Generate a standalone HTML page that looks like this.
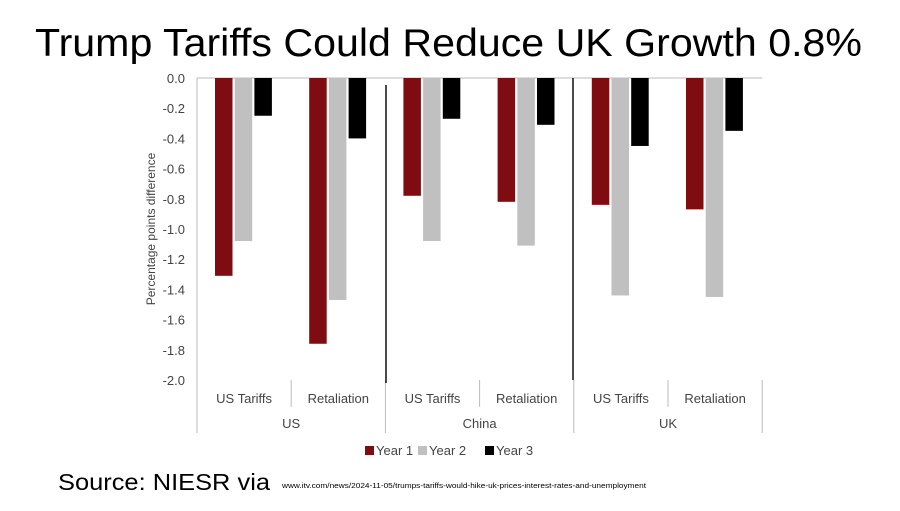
<!DOCTYPE html>
<html><head><meta charset="utf-8"><style>
body{margin:0;background:#fff;width:900px;height:506px;overflow:hidden;font-family:"Liberation Sans",sans-serif}
</style></head><body>
<svg width="900" height="506" xmlns="http://www.w3.org/2000/svg" id="chart">
<text x="35" y="56" font-size="39" fill="#000" textLength="827" lengthAdjust="spacingAndGlyphs">Trump Tariffs Could Reduce UK Growth 0.8%</text>
<text x="58" y="490" font-size="23" fill="#000" textLength="212" lengthAdjust="spacingAndGlyphs">Source: NIESR via</text>
<text x="282" y="488" font-size="7.5" fill="#000" textLength="364" lengthAdjust="spacingAndGlyphs">www.itv.com/news/2024-11-05/trumps-tariffs-would-hike-uk-prices-interest-rates-and-unemployment</text>
<g id="plot"></g>
</svg>
<script>
const categories=["US Tariffs","Retaliation","US Tariffs","Retaliation","US Tariffs","Retaliation"];
const groups=["US","China","UK"];
const year1=[-1.31,-1.76,-0.78,-0.82,-0.84,-0.87];
const year2=[-1.08,-1.47,-1.08,-1.11,-1.44,-1.45];
const year3=[-0.25,-0.40,-0.27,-0.31,-0.45,-0.35];
const yTicks=["0.0","-0.2","-0.4","-0.6","-0.8","-1.0","-1.2","-1.4","-1.6","-1.8","-2.0"];
const seriesNames=["Year 1","Year 2","Year 3"];
const colors=["#7f0c10","#c0c0c0","#000000"];
const NS="http://www.w3.org/2000/svg";
const g=document.getElementById("plot");
const x0=197,catW=94.2,yTop=78,yBot=380;
function y(v){return yTop+(0-v)/2.0*(yBot-yTop);}
function mk(t,a,txt){const e=document.createElementNS(NS,t);for(const k in a)e.setAttribute(k,a[k]);if(txt!==undefined)e.textContent=txt;g.appendChild(e);return e;}
const font='"Liberation Sans",sans-serif';
yTicks.forEach(t=>{const v=parseFloat(t);
 const e=mk("text",{x:185,y:y(v)+5,"text-anchor":"end","font-size":13,fill:"#444","font-family":font},t);
 
 });
const yt=mk("text",{x:155,y:229,"text-anchor":"middle","font-size":12,fill:"#444",transform:"rotate(-90 155 229)"},"Percentage points difference");


const ax=mk("line",{x1:x0,y1:yTop,x2:x0+catW*6,y2:yTop,stroke:"#bbb","stroke-width":1});


const ay=mk("line",{x1:x0,y1:yTop,x2:x0,y2:yBot,stroke:"#bbb","stroke-width":1});


const series=[year1,year2,year3];
const bw=17.5,gap=2.2,off=18;
categories.forEach((c,i)=>{
 series.forEach((s,j)=>{
  const bx=x0+i*catW+off+j*(bw+gap);
  const r=mk("rect",{x:bx,y:y(0),width:bw,height:y(s[i])-y(0),fill:colors[j]});
  
  
 });
 const t=mk("text",{x:x0+(i+0.5)*catW,y:403,"text-anchor":"middle","font-size":13,fill:"#444","font-family":font},c);
 
 
});
for(let i=0;i<=6;i++){
 const xx=x0+i*catW;
 const l=mk("line",{x1:xx,y1:380,x2:xx,y2:(i%2==0)?433:407,stroke:"#bbb","stroke-width":1});
 
 
}
groups.forEach((gn,k)=>{
 const t=mk("text",{x:x0+(2*k+1)*catW,y:428,"text-anchor":"middle","font-size":13,fill:"#444","font-family":font},gn);
 
 
});
[[386,85,383],[573,78,380]].forEach(a=>{
 const l=mk("line",{x1:a[0],y1:a[1],x2:a[0],y2:a[2],stroke:"#111","stroke-width":1.5});
 
 
});
const lx=[365,418,485];
seriesNames.forEach((n,j)=>{
 const r=mk("rect",{x:lx[j],y:446,width:9,height:9,fill:colors[j]});
 
 
 const t=mk("text",{x:lx[j]+11,y:455,"font-size":13,fill:"#444","font-family":font},n);
 
 
});
</script>
</body></html>
